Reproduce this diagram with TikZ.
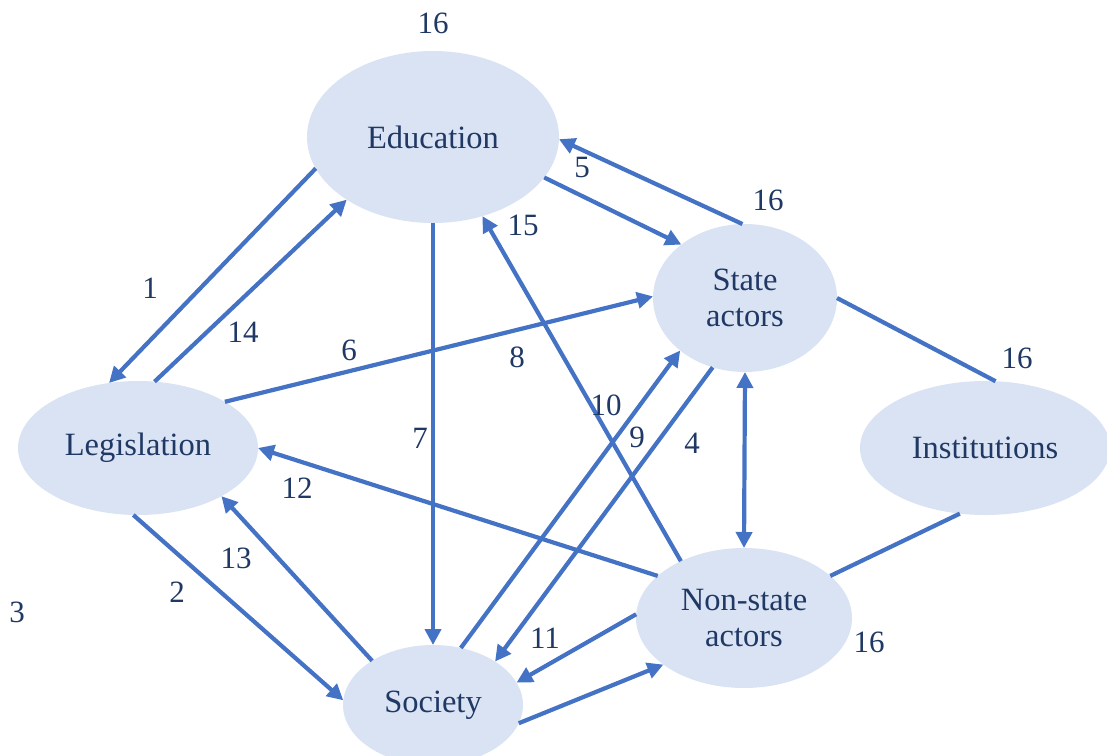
\documentclass[tikz,border=0pt]{standalone}
\usepackage{fontspec}
\setmainfont{Liberation Serif}
\usetikzlibrary{arrows.meta,shapes.geometric}
\definecolor{fillb}{HTML}{DAE3F3}
\definecolor{lineb}{HTML}{4472C4}
\definecolor{navy}{HTML}{1F3864}
\tikzset{
  ell/.style={ellipse,fill=fillb,draw=none,inner sep=0pt,outer sep=0pt,text=navy,font=\fontsize{32.5}{36}\selectfont,align=center},
  conn/.style={draw=lineb,line width=4.2pt,-{Triangle[length=16pt,width=16pt]}},
  dconn/.style={draw=lineb,line width=4.2pt,{Triangle[length=16pt,width=16pt]}-{Triangle[length=16pt,width=16pt]}},
  plain/.style={draw=lineb,line width=4.2pt},
  lbl/.style={text=navy,font=\fontsize{31}{32}\selectfont,inner sep=0pt}
}
\begin{document}
\begin{tikzpicture}[x=1pt,y=-1pt]
\useasboundingbox (0,0) rectangle (1107,755);
\node[ell,minimum width=252pt,minimum height=172pt] (edu) at (433,137) {Education};
\node[ell,minimum width=184pt,minimum height=148pt] (state) at (745,298) {State\\actors};
\node[ell,minimum width=240pt,minimum height=134pt] (leg) at (138,448) {Legislation};
\node[ell,minimum width=250pt,minimum height=134pt] (inst) at (985,448) {Institutions};
\node[ell,minimum width=216pt,minimum height=140pt] (non) at (744,618) {Non-state\\actors};
\node[ell,minimum width=180pt,minimum height=120pt] (soc) at (433,705) {Society};

\draw[conn] (edu.195) -- (leg.114);
\draw[conn] (leg.76) -- (edu.216);
\draw[conn] (edu.340) -- (state.140);
\draw[conn] (state.92) -- (edu.-1);
\draw[conn] (leg.28) -- (state.179);
\draw[conn] (edu.270) -- (soc.90);
\draw[conn] (non.138.5) -- (edu.302);
\draw[conn] (soc.64) -- (state.219);
\draw[conn] (state.245) -- (soc.35);
\draw[dconn] (state.270) -- (non.90);
\draw[conn] (non.154) -- (leg.0);
\draw[conn] (soc.144.5) -- (leg.330);
\draw[conn] (leg.266) -- (soc.177);
\draw[conn] (non.178) -- (soc.15);
\draw[conn] (soc.348) -- (non.210);
\draw[plain] (state.0) -- (inst.81);
\draw[plain] (inst.249.5) -- (non.26);

\node[lbl] (l16a) at (433,23) {16};
\node[lbl] (l16b) at (768,200) {16};
\node[lbl] (l16c) at (1017,358) {16};
\node[lbl] (l16d) at (869,642) {16};
\node[lbl] (l1) at (150,288) {1};
\node[lbl] (l14) at (243,332) {14};
\node[lbl] (l5) at (582,167) {5};
\node[lbl] (l15) at (523,225) {15};
\node[lbl] (l6) at (349,350) {6};
\node[lbl] (l8) at (517,357) {8};
\node[lbl] (l7) at (420,438) {7};
\node[lbl] (l10) at (606,405) {10};
\node[lbl] (l9) at (637,437) {9};
\node[lbl] (l4) at (692,443) {4};
\node[lbl] (l12) at (297,488) {12};
\node[lbl] (l13) at (236,558) {13};
\node[lbl] (l2) at (177,592) {2};
\node[lbl] (l3) at (17,612) {3};
\node[lbl] (l11) at (545,638) {11};
\end{tikzpicture}
\end{document}
